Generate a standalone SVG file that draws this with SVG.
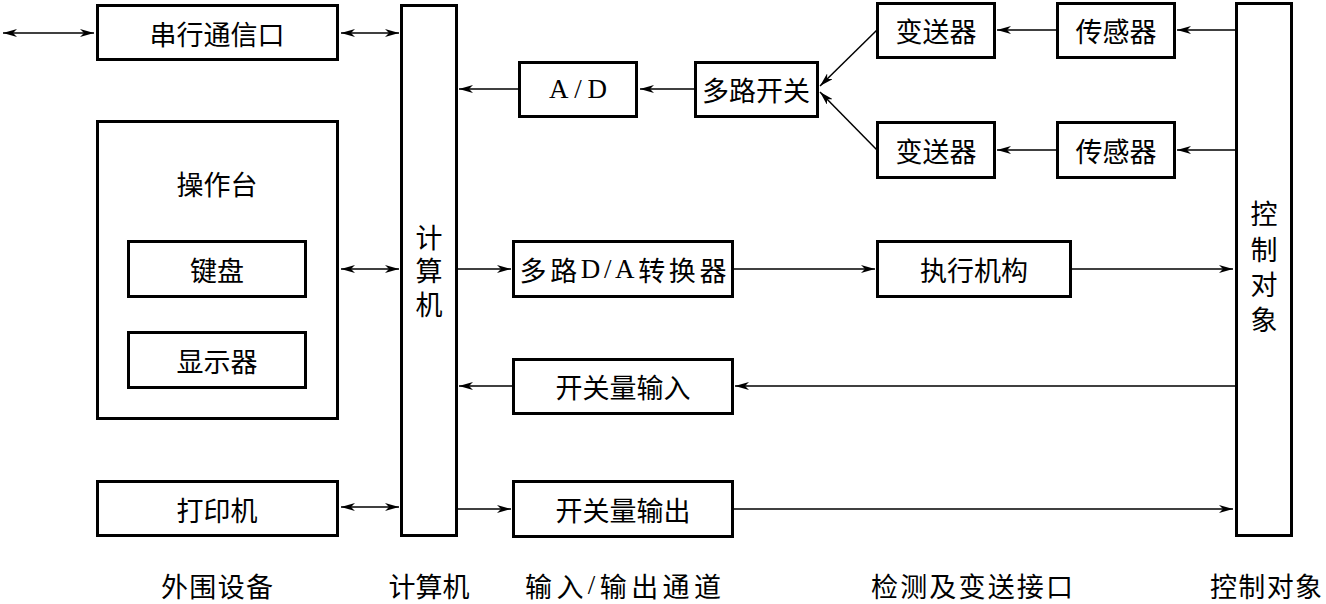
<svg xmlns="http://www.w3.org/2000/svg" width="1326" height="604" viewBox="0 0 1326 604">
<style>
.box{fill:#fff;stroke:#000;stroke-width:3}
.ln{fill:none;stroke:#000;stroke-width:1.5}
.t{font-family:"Noto Sans CJK SC","Liberation Serif",serif;font-size:27px;fill:#000;text-anchor:middle;dominant-baseline:central}
.v{writing-mode:vertical-rl;text-orientation:upright}
.l{font-family:"Liberation Serif","Noto Sans CJK SC",serif}
</style>
<defs>
<marker id="ar" viewBox="0 0 14 8" refX="14" refY="4" markerWidth="14" markerHeight="8" markerUnits="userSpaceOnUse" orient="auto-start-reverse">
<path d="M0,0 L14,4 L0,8 L4,4 z" fill="#000"/>
</marker>
</defs>
<rect width="1326" height="604" fill="#fff"/>
<g id="connectors">
<line class="ln" x1="3" y1="33" x2="94" y2="33" marker-start="url(#ar)" marker-end="url(#ar)"/>
<line class="ln" x1="341" y1="33" x2="399" y2="33" marker-start="url(#ar)" marker-end="url(#ar)"/>
<line class="ln" x1="341" y1="269" x2="399" y2="269" marker-start="url(#ar)" marker-end="url(#ar)"/>
<line class="ln" x1="341" y1="507" x2="399" y2="507" marker-start="url(#ar)" marker-end="url(#ar)"/>
<line class="ln" x1="518" y1="89" x2="459" y2="89" marker-end="url(#ar)"/>
<line class="ln" x1="694" y1="89" x2="640" y2="89" marker-end="url(#ar)"/>
<line class="ln" x1="877" y1="30" x2="820" y2="86" marker-end="url(#ar)"/>
<line class="ln" x1="877" y1="150" x2="820" y2="92" marker-end="url(#ar)"/>
<line class="ln" x1="1057" y1="30" x2="997" y2="30" marker-end="url(#ar)"/>
<line class="ln" x1="1235" y1="30" x2="1177" y2="30" marker-end="url(#ar)"/>
<line class="ln" x1="1057" y1="150" x2="997" y2="150" marker-end="url(#ar)"/>
<line class="ln" x1="1235" y1="150" x2="1177" y2="150" marker-end="url(#ar)"/>
<line class="ln" x1="457" y1="269" x2="511" y2="269" marker-end="url(#ar)"/>
<line class="ln" x1="733" y1="269" x2="875" y2="269" marker-end="url(#ar)"/>
<line class="ln" x1="1071" y1="269" x2="1233" y2="269" marker-end="url(#ar)"/>
<line class="ln" x1="1235" y1="386" x2="735" y2="386" marker-end="url(#ar)"/>
<line class="ln" x1="513" y1="386" x2="459" y2="386" marker-end="url(#ar)"/>
<line class="ln" x1="457" y1="509" x2="511" y2="509" marker-end="url(#ar)"/>
<line class="ln" x1="733" y1="509" x2="1233" y2="509" marker-end="url(#ar)"/>
</g>
<g id="serial"><rect class="box" x="97.5" y="5.5" width="240" height="54"/><text class="t" x="217" y="33">串行通信口</text></g>
<g id="console"><rect class="box" x="97.5" y="121.5" width="240" height="297"/><text class="t" x="217" y="183">操作台</text></g>
<g id="keyboard"><rect class="box" x="128.5" y="241.5" width="177" height="55"/><text class="t" x="217" y="269">键盘</text></g>
<g id="display"><rect class="box" x="128.5" y="332.5" width="177" height="55"/><text class="t" x="217" y="360">显示器</text></g>
<g id="printer"><rect class="box" x="97.5" y="481.5" width="240" height="54"/><text class="t" x="217" y="509">打印机</text></g>
<g id="computer"><rect class="box" x="401.5" y="5.5" width="55" height="530"/>
<text class="t v" x="429" y="271" textLength="94" lengthAdjust="spacing">计算机</text></g>
<g id="ad"><rect class="box" x="519.5" y="62.5" width="117" height="54"/><text class="t l" x="578" y="89" textLength="58" lengthAdjust="spacing">A/D</text></g>
<g id="mux"><rect class="box" x="695.5" y="62.5" width="122" height="54"/><text class="t" x="756" y="89">多路开关</text></g>
<g id="tx1"><rect class="box" x="877.5" y="3.5" width="117" height="54"/><text class="t" x="936" y="30">变送器</text></g>
<g id="sn1"><rect class="box" x="1057.5" y="3.5" width="117" height="54"/><text class="t" x="1116" y="30">传感器</text></g>
<g id="tx2"><rect class="box" x="877.5" y="122.5" width="117" height="55"/><text class="t" x="936" y="150">变送器</text></g>
<g id="sn2"><rect class="box" x="1057.5" y="122.5" width="117" height="55"/><text class="t" x="1116" y="150">传感器</text></g>
<g id="dac"><rect class="box" x="513.5" y="241.5" width="219" height="55"/><text class="t" x="623" y="269" textLength="207" lengthAdjust="spacing">多路<tspan class="l">D/A</tspan>转换器</text></g>
<g id="actuator"><rect class="box" x="877.5" y="241.5" width="193" height="55"/><text class="t" x="974" y="269">执行机构</text></g>
<g id="din"><rect class="box" x="513.5" y="359.5" width="219" height="54"/><text class="t" x="623" y="386">开关量输入</text></g>
<g id="dout"><rect class="box" x="513.5" y="481.5" width="219" height="55"/><text class="t" x="623" y="509">开关量输出</text></g>
<g id="plant"><rect class="box" x="1236.5" y="3.5" width="55" height="532"/>
<text class="t v" x="1264" y="267" textLength="133" lengthAdjust="spacing">控制对象</text></g>
<g id="labels">
<text class="t" x="217" y="585" textLength="112" lengthAdjust="spacing">外围设备</text>
<text class="t" x="429" y="585">计算机</text>
<text class="t" x="623" y="585" textLength="196" lengthAdjust="spacing">输入<tspan class="l">/</tspan>输出通道</text>
<text class="t" x="972" y="585" textLength="202" lengthAdjust="spacing">检测及变送接口</text>
<text class="t" x="1266" y="585" textLength="112" lengthAdjust="spacing">控制对象</text>
</g>
</svg>
